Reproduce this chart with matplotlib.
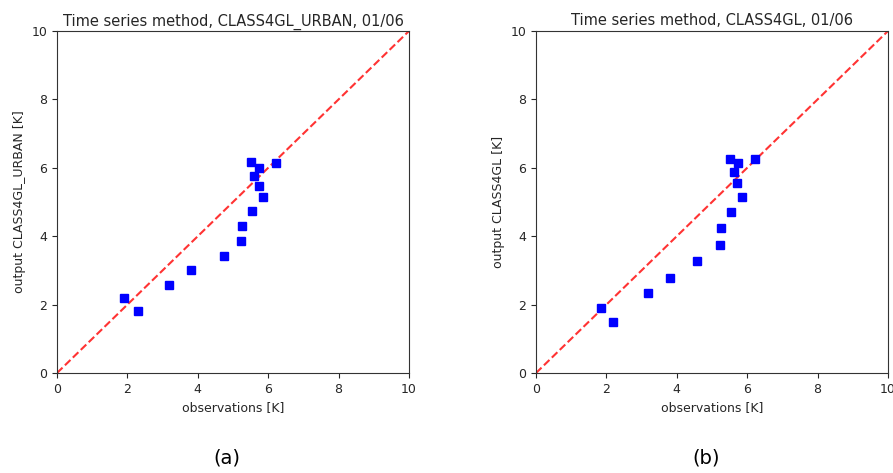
import numpy as np
import matplotlib
matplotlib.use('Agg')
import matplotlib.pyplot as plt

# panel (a): CLASS4GL_URBAN
obs_a = [1.91, 2.31, 3.17, 3.82, 4.74, 5.22, 5.26, 5.54, 5.51, 5.73, 5.60, 5.73, 5.86, 6.22]
mod_a = [2.20, 1.82, 2.57, 3.02, 3.41, 3.86, 4.30, 4.75, 6.18, 5.98, 5.77, 5.48, 5.15, 6.14]

# panel (b): CLASS4GL
obs_b = [1.84, 2.20, 3.17, 3.82, 4.57, 5.23, 5.26, 5.54, 5.51, 5.73, 5.62, 5.72, 5.86, 6.22]
mod_b = [1.91, 1.50, 2.35, 2.79, 3.27, 3.74, 4.23, 4.71, 6.25, 6.15, 5.89, 5.55, 5.15, 6.25]

titles = ['Time series method, CLASS4GL_URBAN, 01/06', 'Time series method, CLASS4GL, 01/06']
ylabels = ['output CLASS4GL_URBAN [K]', 'output CLASS4GL [K]']
panel_labels = ['(a)', '(b)']

W, H = 893, 473
fig = plt.figure(figsize=(W / 100, H / 100), dpi=100)
txt = '#262626'

lefts = [57, 536]
for i, (xs, ys) in enumerate([(obs_a, mod_a), (obs_b, mod_b)]):
    ax = fig.add_axes([lefts[i] / W, (H - 373) / H, 352 / W, 342 / H])
    ax.plot([0, 10], [0, 10], '--', color='red', alpha=0.8, lw=1.5)
    ax.plot(xs, ys, 's', color='blue', ms=6)
    ax.set_xlim(0, 10)
    ax.set_ylim(0, 10)
    ax.set_xticks([0, 2, 4, 6, 8, 10])
    ax.set_yticks([0, 2, 4, 6, 8, 10])
    ax.tick_params(labelsize=9, colors=txt, length=3.5)
    for s in ax.spines.values():
        s.set_color('#333333')
    ax.set_title(titles[i], fontsize=10.5, color=txt, pad=4)
    ax.set_xlabel('observations [K]', fontsize=9, color=txt)
    ax.set_ylabel(ylabels[i], fontsize=9, color=txt)
    fig.text((lefts[i] + 170) / W, 1 - 458 / H, panel_labels[i], fontsize=14,
             ha='center', va='center', color='black')

fig.savefig('out.png', dpi=100)
